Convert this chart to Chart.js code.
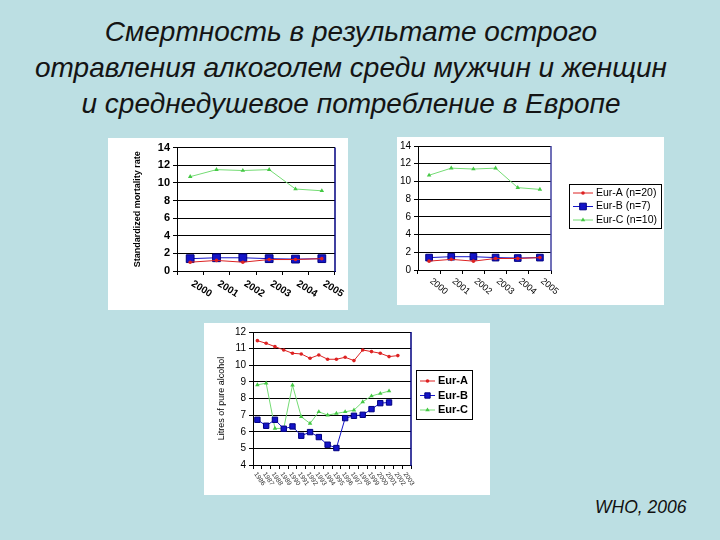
<!DOCTYPE html>
<html>
<head>
<meta charset="utf-8">
<script src="https://cdn.jsdelivr.net/npm/chart.js@4.4.1/dist/chart.umd.min.js"></script>
<style>
  body { margin: 0; background: #bcdfe3; width: 720px; height: 540px; overflow: hidden; position: relative; font-family: "Liberation Sans", Arial, sans-serif; }
  #title { position: absolute; left: 0; top: 14px; width: 702px; text-align: center; font-style: italic; font-size: 28px; line-height: 36px; color: #141414; }
  #source { position: absolute; left: 595px; top: 497px; font-style: italic; font-size: 17.5px; color: #111; }
  .box { position: absolute; background: #fff; }
  .box canvas { display: block; }
</style>
</head>
<body>
<div id="title">Смертность в результате острого<br>отравления алкоголем среди мужчин и женщин<br>и среднедушевое потребление в Европе</div>
<div class="box" style="left:108px; top:138px; width:240px; height:172px;"><canvas id="mortChart1" width="240" height="172"></canvas></div>
<div class="box" style="left:397px; top:137px; width:267px; height:168px;"><canvas id="mortChart2" width="267" height="168"></canvas></div>
<div class="box" style="left:204px; top:323px; width:286px; height:172px;"><canvas id="consChart" width="286" height="172"></canvas></div>
<div id="source">WHO, 2006</div>

<script>
// mortality, standardized rate
const mortYears = ['2000', '2001', '2002', '2003', '2004', '2005'];
const mortA = [1.0, 1.2, 1.0, 1.3, 1.3, 1.4];
const mortB = [1.4, 1.5, 1.5, 1.4, 1.35, 1.4];
const mortC = [10.7, 11.5, 11.4, 11.5, 9.3, 9.1];
const mortLabels = ['Eur-A (n=20)', 'Eur-B (n=7)', 'Eur-C (n=10)'];

// litres of pure alcohol per capita
const consYears = ['1986', '1987', '1988', '1989', '1990', '1991', '1992', '1993', '1994',
                   '1995', '1996', '1997', '1998', '1999', '2000', '2001', '2002', '2003'];
const consA = [11.48, 11.32, 11.12, 10.92, 10.72, 10.68, 10.42, 10.62, 10.36, 10.36, 10.48, 10.28, 10.92, 10.82, 10.72, 10.52, 10.58];
const consB = [6.72, 6.36, 6.72, 6.18, 6.32, 5.76, 5.98, 5.68, 5.22, 5.02, 6.82, 6.96, 7.02, 7.36, 7.72, 7.76];
const consC = [8.82, 8.92, 6.2, 6.2, 8.8, 6.9, 6.5, 7.2, 7.0, 7.1, 7.2, 7.3, 7.8, 8.15, 8.3, 8.45];
const consLabels = ['Eur-A', 'Eur-B', 'Eur-C'];

const RED = '#dd2222', BLUE = '#1414c8', GREEN = '#74dc74';

function series(labels, a, b, c, sq) {
    return [
        { label: labels[0], data: a, borderColor: RED, backgroundColor: RED, borderWidth: 1,
          pointStyle: 'circle', pointRadius: 1.8, pointBorderWidth: 0 },
        { label: labels[1], data: b, borderColor: BLUE, backgroundColor: BLUE, borderWidth: 1,
          pointStyle: 'rect', pointRadius: sq, pointBorderWidth: 1, pointBorderColor: '#000080' },
        { label: labels[2], data: c, borderColor: GREEN, backgroundColor: '#44c844', borderWidth: 1,
          pointStyle: 'triangle', pointRadius: 2.6, pointBorderWidth: 0 }
    ];
}

// x labels slanting down to the right, starting under each category
const slantLabels = {
    id: 'slantLabels',
    afterDraw(chart, args, opts) {
        const x = chart.scales.x;
        const ctx = chart.ctx;
        ctx.save();
        ctx.font = opts.font;
        ctx.fillStyle = opts.color || '#000';
        ctx.textAlign = 'left';
        ctx.textBaseline = 'middle';
        x.getLabels().forEach((lab, i) => {
            ctx.save();
            ctx.translate(x.getPixelForValue(i) + opts.dx, x.top + opts.dy);
            ctx.rotate(opts.angle * Math.PI / 180);
            ctx.fillText(lab, 0, 0);
            ctx.restore();
        });
        ctx.restore();
    }
};

// right edge of the plot area
const rightEdge = {
    id: 'rightEdge',
    afterDraw(chart, args, opts) {
        const a = chart.chartArea;
        const ctx = chart.ctx;
        ctx.save();
        ctx.strokeStyle = opts.color;
        ctx.lineWidth = 1.5;
        ctx.beginPath();
        ctx.moveTo(a.right, a.top);
        ctx.lineTo(a.right, a.bottom + 1);
        ctx.stroke();
        ctx.restore();
    }
};

// excel-like boxed legend: line with marker in the middle
const boxLegend = {
    id: 'boxLegend',
    afterDraw(chart, args, opts) {
        if (!opts.show) return;
        const ctx = chart.ctx;
        ctx.save();
        ctx.fillStyle = '#fff';
        ctx.fillRect(opts.x, opts.y, opts.w, opts.h);
        ctx.strokeStyle = '#000';
        ctx.lineWidth = 1;
        ctx.strokeRect(opts.x + 0.5, opts.y + 0.5, opts.w, opts.h);
        ctx.font = opts.font;
        ctx.textBaseline = 'middle';
        chart.data.datasets.forEach((ds, i) => {
            const y = opts.y + opts.first + i * opts.rowH;
            const x0 = opts.x + 4;
            ctx.strokeStyle = ds.borderColor;
            ctx.beginPath();
            ctx.moveTo(x0, y);
            ctx.lineTo(x0 + opts.lineLen, y);
            ctx.stroke();
            ctx.fillStyle = ds.backgroundColor;
            ctx.strokeStyle = ds.pointBorderColor || ds.borderColor;
            Chart.helpers.drawPoint(ctx, {
                pointStyle: ds.pointStyle, radius: ds.pointRadius, borderWidth: ds.pointBorderWidth, rotation: 0
            }, x0 + opts.lineLen / 2, y);
            ctx.fillStyle = '#000';
            ctx.fillText(ds.label, x0 + opts.lineLen + 3, y);
        });
        ctx.restore();
    }
};

function makeChart(id, labels, datasets, cfg) {
    return new Chart(document.getElementById(id).getContext('2d'), {
        type: 'line',
        data: { labels: labels, datasets: datasets },
        options: {
            responsive: false,
            animation: false,
            layout: { autoPadding: false, padding: { left: 0, top: cfg.top, right: cfg.right, bottom: 0 } },
            plugins: {
                legend: { display: false },
                tooltip: { enabled: false },
                slantLabels: cfg.slant,
                rightEdge: { color: cfg.edge },
                boxLegend: cfg.legend
            },
            scales: {
                x: {
                    offset: true,
                    grid: { offset: true, drawOnChartArea: false, drawTicks: true, tickLength: 4, color: '#000' },
                    border: { color: '#000', width: 1 },
                    ticks: { display: false },
                    afterFit: s => { s.height = cfg.xh; }
                },
                y: {
                    min: cfg.min, max: cfg.max,
                    ticks: { stepSize: cfg.step, color: '#000', font: cfg.yfont, padding: 3 },
                    grid: { color: '#000', tickLength: 4 },
                    border: { color: '#000', width: 1 },
                    title: cfg.ytitle,
                    afterFit: s => { s.width = cfg.yw; }
                }
            }
        },
        plugins: [slantLabels, rightEdge, boxLegend]
    });
}

document.addEventListener('DOMContentLoaded', () => {
    makeChart('mortChart1', mortYears, series(mortLabels, mortA, mortB, mortC, 5.5), {
        top: 6, right: 13, xh: 39, yw: 69, min: 0, max: 14, step: 2,
        yfont: { family: 'Liberation Sans', size: 11, weight: 'bold' },
        ytitle: { display: true, text: 'Standardized mortality rate', color: '#000',
                  font: { family: 'Liberation Sans', size: 9, weight: 'bold' }, padding: { top: 24, bottom: 0 } },
        slant: { font: 'bold 10px "Liberation Sans"', dx: 2, dy: 12, angle: 32 },
        edge: '#000080',
        legend: { show: false }
    });

    makeChart('mortChart2', mortYears, series(mortLabels, mortA, mortB, mortC, 4.7), {
        top: 5, right: 113, xh: 35, yw: 21, min: 0, max: 14, step: 2,
        yfont: { family: 'Liberation Sans', size: 10 },
        ytitle: { display: false },
        slant: { font: '9px "Liberation Sans"', dx: 2, dy: 10, angle: 40 },
        edge: '#4040a0',
        legend: { show: true, x: 172, y: 47, w: 92, h: 44, first: 9, rowH: 13.5, lineLen: 20,
                  font: '10.5px "Liberation Sans"' }
    });

    makeChart('consChart', consYears, series(consLabels, consA, consB, consC, 3.8), {
        top: 9, right: 79, xh: 30, yw: 49, min: 4, max: 12, step: 1,
        yfont: { family: 'Liberation Sans', size: 10 },
        ytitle: { display: true, text: 'Litres of pure alcohol', color: '#000',
                  font: { family: 'Liberation Sans', size: 9 }, padding: { top: 12, bottom: 0 } },
        slant: { font: '6.5px "Liberation Sans"', dx: -2, dy: 8, angle: 55, color: '#333' },
        edge: '#000080',
        legend: { show: true, x: 212, y: 47, w: 56, h: 49, first: 11, rowH: 14.5, lineLen: 15,
                  font: 'bold 11px "Liberation Sans"' }
    });
});
</script>
</body>
</html>
